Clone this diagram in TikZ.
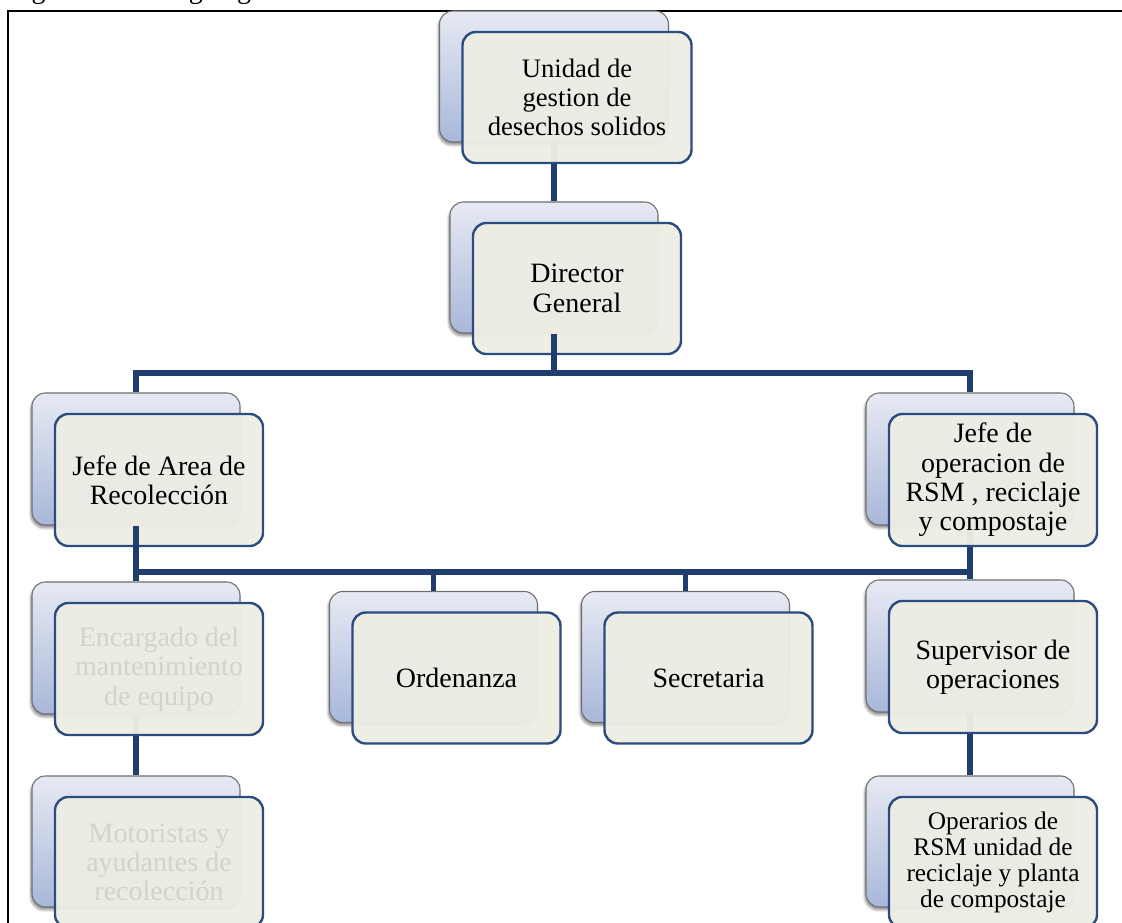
\documentclass[tikz,border=0pt]{standalone}
\usepackage{fontspec}
\setmainfont{Liberation Serif}
\usetikzlibrary{shadows.blur}

\definecolor{cardfill}{HTML}{EEEDE4}
\definecolor{cardline}{HTML}{2B4C7E}
\definecolor{backtop}{HTML}{E7EAF3}
\definecolor{backbot}{HTML}{A8B7DA}
\definecolor{backline}{HTML}{6E6E6E}
\definecolor{wirecol}{HTML}{1F3E6E}
\definecolor{ghost}{HTML}{D3D3CB}

\tikzset{
  backcard/.style={rounded corners=10pt, draw=backline, line width=0.8pt,
    top color=backtop, bottom color=backbot, inner sep=0pt,
    blur shadow={shadow xshift=-0.8pt, shadow yshift=-2.2pt,
      shadow blur steps=6, shadow opacity=45}},
  frontcard/.style={rounded corners=10pt, draw=cardline, line width=1.8pt,
    fill=cardfill, fill opacity=0.96, text opacity=1, align=center,
    inner sep=0pt, text=black, font=\fontsize{21}{22}\selectfont},
  ghosttext/.style={text=ghost},
  wire/.style={draw=wirecol, line width=4pt},
}

% back card of a box: sits up and to the left of the front card
% \backcard{name}{x}{y}{width}{height}  (x, y: centre of the front card)
\newcommand\backcard[5]{%
  \node[backcard, minimum width=#4, minimum height=#5] (#1-b) at ({#2-23},{#3-21}) {};}
% \frontcard{name}{x}{y}{width}{height}{style}{text}
\newcommand\frontcard[7]{%
  \node[frontcard, minimum width=#4, minimum height=#5, #6] (#1) at (#2,#3) {#7};}

\begin{document}
\begin{tikzpicture}[x=0.75pt, y=-0.75pt]
  \useasboundingbox (0,0) rectangle (1122,923);
  \clip (0,0) rectangle (1122,923);

  % caption line above the frame
  \node[anchor=base west, inner sep=0pt, font=\fontsize{21}{22}\selectfont] (caption) at (8,-1) {Figura No. 1 Organigrama};

  % frame
  \draw[line width=1.5pt] (8,11) rectangle (1150,950);

  % back cards
  \backcard{top}{577}{97.5}{171.75pt}{98.25pt}
  \backcard{dir}{577}{288.5}{156pt}{98.25pt}
  \backcard{jA}{159}{480}{156pt}{99pt}
  \backcard{jO}{993}{480}{156pt}{99pt}
  \backcard{enc}{159}{669}{156pt}{99pt}
  \backcard{ord}{456.5}{678}{156pt}{98.25pt}
  \backcard{sec}{708.5}{678}{156pt}{98.25pt}
  \backcard{sup}{993}{667}{156pt}{99pt}
  \backcard{mot}{159}{862.5}{156pt}{98.25pt}
  \backcard{ope}{993}{862.5}{156pt}{98.25pt}

  % bus lines
  \coordinate (bus1) at (0,373);
  \coordinate (bus2) at (0,572);

  % connectors
  \draw[wire] (top-b.south) -- (dir-b.north);
  \draw[wire] (dir-b.south) -- (dir-b.south |- bus1);
  \draw[wire] (jA-b.north) -- (jA-b.north |- bus1) -- (jO-b.north |- bus1) -- (jO-b.north);
  \draw[wire] (jA-b.south) -- (jA-b.south |- bus2) -- (jO-b.south |- bus2) -- (jO-b.south);
  \draw[wire] (jA-b.south |- bus2) -- (enc-b.north);
  \draw[wire] (ord-b.north |- bus2) -- (ord-b.north);
  \draw[wire] (sec-b.north |- bus2) -- (sec-b.north);
  \draw[wire] (jO-b.south |- bus2) -- (sup-b.north);
  \draw[wire] (enc-b.south) -- (mot-b.north);
  \draw[wire] (sup-b.south) -- (ope-b.north);

  % front cards
  \frontcard{top}{577}{97.5}{171.75pt}{98.25pt}{font=\fontsize{20}{21.5}\selectfont}{Unidad de\\gestion de\\desechos solidos}
  \frontcard{dir}{577}{288.5}{156pt}{98.25pt}{font=\fontsize{21}{22.5}\selectfont}{Director\\General}
  \frontcard{jA}{159}{480}{156pt}{99pt}{}{Jefe de Area de\\Recolección}
  \frontcard{jO}{993}{480}{156pt}{99pt}{}{Jefe de\\operacion de\\RSM , reciclaje\\y compostaje}
  \frontcard{enc}{159}{669}{156pt}{99pt}{ghosttext}{Encargado del\\mantenimiento\\de equipo}
  \frontcard{ord}{456.5}{678}{156pt}{98.25pt}{}{Ordenanza}
  \frontcard{sec}{708.5}{678}{156pt}{98.25pt}{}{Secretaria}
  \frontcard{sup}{993}{667}{156pt}{99pt}{}{Supervisor de\\operaciones}
  \frontcard{mot}{159}{862.5}{156pt}{98.25pt}{ghosttext}{Motoristas y\\ayudantes de\\recolección}
  \frontcard{ope}{993}{862.5}{156pt}{98.25pt}{font=\fontsize{19}{19.5}\selectfont}{Operarios de\\RSM unidad de\\reciclaje y planta\\de compostaje}

  % stubs that sit over the front cards
  \draw[wire] (dir-b.south) -- (dir-b.south |- dir.south);
  \draw[wire] (jA-b.south) -- (jA-b.south |- jA.south);
\end{tikzpicture}
\end{document}
